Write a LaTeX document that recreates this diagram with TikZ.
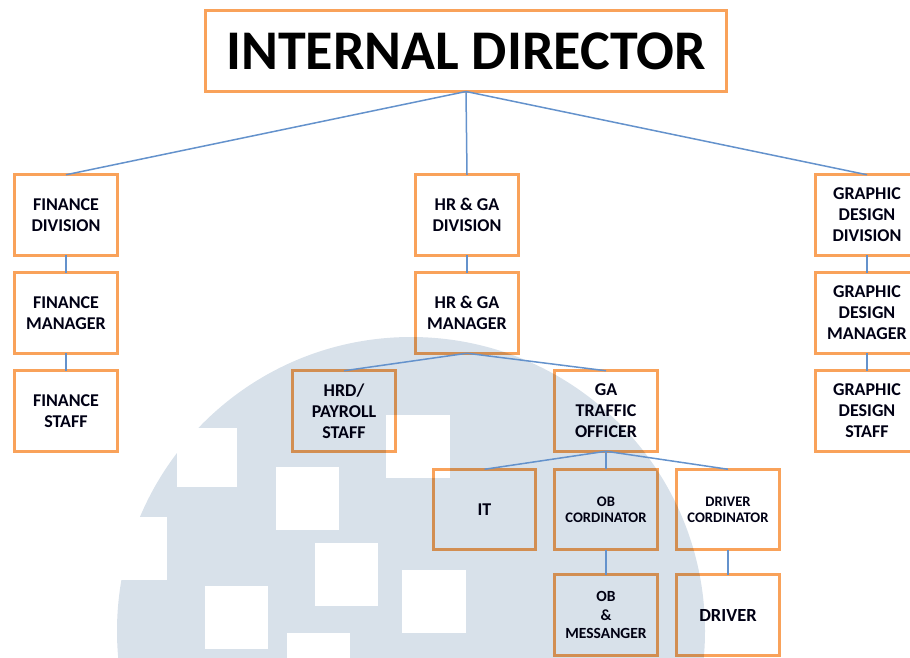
\documentclass[tikz,border=0pt]{standalone}
\usepackage{fontspec}
\setmainfont{Carlito}
\definecolor{boxline}{HTML}{F9A25A}
\definecolor{linkline}{HTML}{6492CC}
\definecolor{disc}{HTML}{D8E1EA}
\tikzset{
  x=1pt,y=-1pt,
  orgbox/.style={draw=boxline,line width=3.2pt,fill=none,minimum width=102.5pt,minimum height=80.5pt,
    inner sep=0pt,outer sep=0pt,align=center,font=\bfseries\fontsize{18}{21}\selectfont,text=black!92!blue},
  small/.style={font=\bfseries\fontsize{14.6}{16}\selectfont},
  mid/.style={font=\bfseries\fontsize{15.5}{18.5}\selectfont},
  big/.style={font=\bfseries\fontsize{18.5}{22}\selectfont},
  titlebox/.style={orgbox,minimum width=521pt,minimum height=81pt,font=\bfseries\fontsize{56}{60}\selectfont,text=black},
  link/.style={draw=linkline,line width=1.5pt},
  hole/.style={fill=white,draw=none}
}
\begin{document}
\begin{tikzpicture}
\useasboundingbox (0,0) rectangle (910,657);
\clip (0,0) rectangle (910,657);
\fill[disc] (411,631) circle (294);
\fill[hole] (177,428) rectangle (237,487);
\fill[hole] (276,467) rectangle (339,530);
\fill[hole] (386,415) rectangle (450,478);
\fill[hole] (100,517) rectangle (167,580);
\fill[hole] (315,543) rectangle (378,606);
\fill[hole] (402,570) rectangle (466,633);
\fill[hole] (205,586) rectangle (268,649);
\fill[hole] (287,633) rectangle (350,696);
\begin{scope}[blend mode=multiply]
\node[titlebox] (top) at (466,51) {INTERNAL DIRECTOR};
\node[orgbox] (fd) at (66,215) {FINANCE\\DIVISION};
\node[orgbox] (fm) at (66,313) {FINANCE\\MANAGER};
\node[orgbox] (fs) at (66,411) {FINANCE\\STAFF};
\node[orgbox] (hd) at (467,215) {HR \& GA\\DIVISION};
\node[orgbox] (hm) at (467,313) {HR \& GA\\MANAGER};
\node[orgbox] (hp) at (344,411) {HRD/\\PAYROLL\\STAFF};
\node[orgbox] (ga) at (606,411) {GA\\TRAFFIC\\OFFICER};
\node[orgbox] (it) at (484.5,509.5) {IT};
\node[orgbox,small] (ob) at (606,509.5) {OB\\CORDINATOR};
\node[orgbox,small] (dc) at (728,509.5) {DRIVER\\CORDINATOR};
\node[orgbox,mid] (om) at (606,615) {OB\\\&\\MESSANGER};
\node[orgbox,big] (dr) at (728,615) {\raisebox{-1.5pt}{DRIVER}};
\node[orgbox] (gd) at (867,215) {GRAPHIC\\DESIGN\\DIVISION};
\node[orgbox] (gm) at (867,313) {GRAPHIC\\DESIGN\\MANAGER};
\node[orgbox] (gs) at (867,411) {GRAPHIC\\DESIGN\\STAFF};
\end{scope}
\draw[link] (top.south) -- (fd.north);
\draw[link] (top.south) -- (hd.north);
\draw[link] (top.south) -- (gd.north);
\draw[link] (fd) -- (fm);
\draw[link] (fm) -- (fs);
\draw[link] (hd) -- (hm);
\draw[link] (gd) -- (gm);
\draw[link] (gm) -- (gs);
\draw[link] (hm.south) -- (hp.north);
\draw[link] (hm.south) -- (ga.north);
\draw[link] (ga.south) -- (it.north);
\draw[link] (ga.south) -- (ob.north);
\draw[link] (ga.south) -- (dc.north);
\draw[link] (ob) -- (om);
\draw[link] (dc) -- (dr);
\end{tikzpicture}
\end{document}
